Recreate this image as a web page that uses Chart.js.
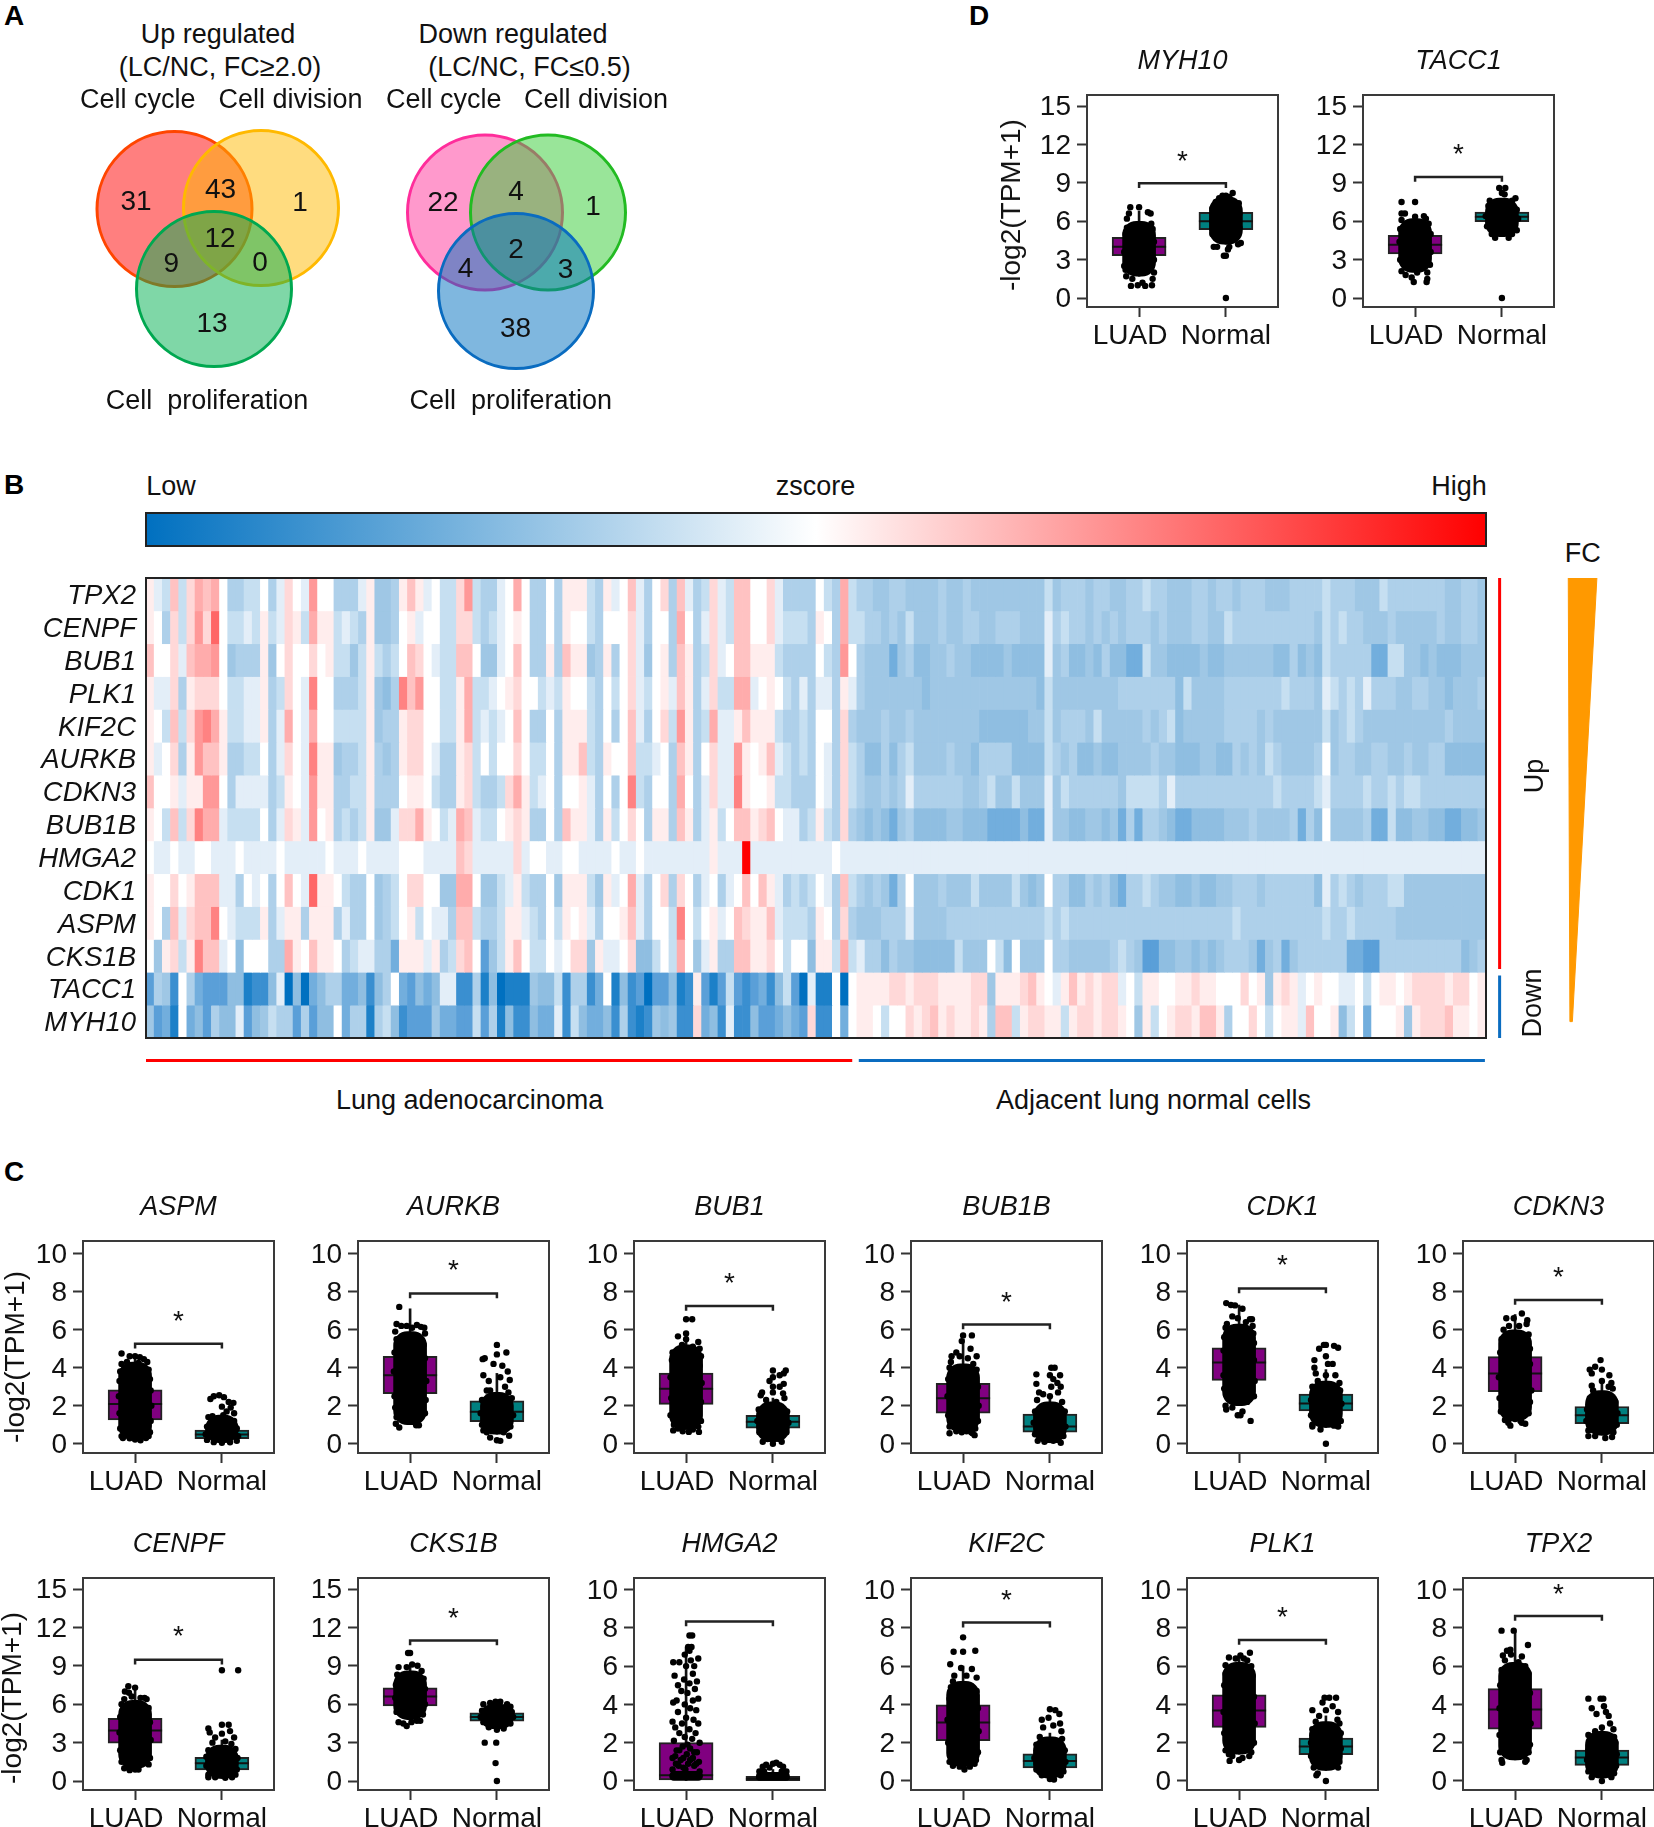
<!DOCTYPE html>
<html>
<head>
<meta charset="utf-8">
<title>Venn, heatmap and expression panels</title>
<script src="https://cdn.jsdelivr.net/npm/chart.js@4"></script>
<style>
html, body { margin: 0; padding: 0; background: #fff; width: 1654px; height: 1827px; overflow: hidden; }
canvas { position: absolute; }
.lbl { position: absolute; transform: translate(-50%, -50%); white-space: pre; font: 27px "Liberation Sans", Arial, sans-serif; color: #111; line-height: 1; }
.ylab { font-size: 28px; }
.bold { font-weight: bold; font-size: 28px; color: #000; }
</style>
</head>
<body>
<script>
// venn counts
const upCounts = [31, 43, 1, 9, 12, 0, 13];
const downCounts = [22, 4, 1, 4, 2, 3, 38];

// box plot values, same order as plotGenes
const plotGenes = ['ASPM','AURKB','BUB1','BUB1B','CDK1','CDKN3','CENPF','CKS1B','HMGA2','KIF2C','PLK1','TPX2','MYH10','TACC1'];
const groupLabels = ['LUAD', 'Normal'];
const ticks10 = [0, 2, 4, 6, 8, 10];
const ticks15 = [0, 3, 6, 9, 12, 15];
const q1Luad   = [1.25,2.63,2.07,1.61,3.33,2.74,2.95,5.87,0.05,2.1,2.8,2.7,3.3,3.44];
const medLuad  = [2.09,3.6,2.89,2.39,4.28,3.7,3.94,6.6,0.3,3.06,3.68,3.73,4,4.17];
const q3Luad   = [2.84,4.6,3.72,3.18,5.05,4.58,4.9,7.28,2,3.98,4.5,4.82,4.74,4.9];
const q1Norm   = [0.26,1.16,0.82,0.61,1.72,1.05,0.86,4.67,0.02,0.68,1.38,0.82,5.34,5.96];
const medNorm  = [0.49,1.68,1.16,0.9,2.12,1.5,1.38,5,0.12,1.05,1.8,1.23,6,6.35];
const q3Norm   = [0.72,2.26,1.49,1.56,2.61,1.96,1.85,5.32,0.25,1.42,2.24,1.61,6.69,6.72];
const whiskLuad = [4.7,7.1,5.8,5.5,7.3,6.8,7.4,9,7,6,6.6,7.8,6.8,6.5];
const whiskNorm = [1.3,3.7,2.4,2.6,3.9,3.2,3.2,6,0.6,2.5,3.4,2.7,8,7.6];
const bracketTop = [5.26,7.91,7.25,6.28,8.17,7.56,9.47,10.98,8.33,8.27,7.36,8.62,8.96,9.45];
const starLevel  = [6.77,9.44,8.8,7.77,9.7,9.07,11.77,13.2,null,9.74,8.9,10.1,11.2,11.7];
// the solid part of each dot cloud, low and high
const denseLoLuad = [0.2,1.0,0.75,0.6,2.0,1.2,1.0,4.8,0,0.75,1.4,1.1,1.7,2.0];
const denseHiLuad = [4.3,5.9,5.2,4.2,6.3,6.0,6.3,8.6,0.5,5.2,6.2,6.2,6.0,6.2];
const denseLoNorm = [0.05,0.5,0.1,0.05,0.85,0.45,0.2,4.1,0,0.15,0.55,0.15,4.2,4.8];
const denseHiNorm = [1.5,2.7,2.2,2.2,3.3,2.8,2.8,6,0.45,2.3,3.1,2.6,7.9,7.8];

// dots: [jitter, value]
const ASPM_luad = [[-.2,4.75],[-.08,4.6],[0,4.6],[.07,4.55],[.13,4.45],[.18,4.3],[-.2,4.2],[-.12,4.3],[.05,4.25],[.2,3.9],[-.22,3.8],[.22,3.4],[-.23,3.3],[.23,2.8],[-.24,2.5],[.24,2],[-.23,1.6],[.23,1.2],[-.22,.8],[.22,.6],[-.2,.4],[-.18,.3],[-.08,.28],[0,.22],[.08,.18],[.16,.3],[.2,.4]];
const ASPM_norm = [[-.12,2.5],[-.17,2.35],[-.04,2.55],[.03,2.45],[.1,2.2],[.17,2.15],[.13,1.9],[0,1.95],[.07,1.7],[.18,1.6],[-.2,1.4],[-.14,1.45],[.02,1.5],[.18,1.2],[-.22,.9],[.22,.8],[-.24,.5],[.24,.4],[-.22,.2],[.22,.15],[-.12,.08],[0,.05],[.12,.07]];
const AURKB_luad = [[-.16,7.2],[-.2,6.3],[-.13,6.2],[-.05,6.2],[.03,6.1],[.1,6.25],[.16,6.15],[.21,6.1],[-.22,5.9],[.22,5.8],[-.2,5.5],[.2,5.2],[-.23,4.8],[.22,4.5],[-.24,3.8],[.24,3.3],[-.23,2.5],[.23,2.3],[-.22,1.9],[.22,1.6],[-.2,1.4],[.17,1.5],[-.21,1.05],[-.16,.85],[.09,.97],[.13,.97],[-.08,1.3]];
const AURKB_norm = [[-.18,4.5],[-.21,4.45],[0,5.2],[.14,4.8],[0,4.7],[-.05,4.2],[.08,4.1],[.16,3.8],[-.2,3.6],[-.12,3.3],[.05,3.5],[.19,3.35],[.12,3],[-.15,2.8],[-.22,2.3],[.22,2.4],[.17,2.7],[-.1,2.8],[-.24,1.6],[.24,1.5],[-.22,1],[.2,.9],[-.15,.6],[-.2,.7],[.1,.6],[-.1,.32],[0,.18],[.05,.15],[.18,.42]];
const BUB1_luad = [[0,6.55],[.09,6.55],[0,5.8],[-.12,5.65],[0,5.5],[.18,5.35],[-.06,5.2],[.1,5.1],[.2,5],[-.2,4.8],[-.1,4.95],[.22,4.6],[-.21,4.4],[-.19,4.1],[.2,4.1],[-.23,3.5],[.23,3.2],[-.22,2.4],[.22,2.2],[-.23,1.5],[.22,1.2],[-.18,1],[.18,.9],[-.19,.7],[-.05,.65],[.04,.62],[.19,.62],[-.12,.8],[.1,.75]];
const BUB1_norm = [[0,3.85],[.19,3.85],[.16,3.7],[.1,3.6],[0,3.5],[-.05,3.3],[.16,3.15],[0,3],[.1,3],[-.16,2.7],[0,2.7],[.15,2.65],[-.18,2.55],[.17,2.4],[-.1,2.3],[.05,2.2],[-.21,1.8],[.21,1.7],[-.23,1.2],[.23,1.1],[-.2,.6],[.2,.6],[-.15,.1],[0,0],[.13,.1],[.1,.25],[-.08,.25]];
const BUB1B_luad = [[0,5.7],[.13,5.7],[-.02,5.4],[.11,5],[.2,4.6],[-.1,4.8],[-.17,4.6],[-.05,4.6],[.07,4.5],[-.18,4.3],[.15,4.2],[-.2,4],[.2,3.9],[-.22,3.4],[.22,3],[-.23,2.5],[.23,2],[-.22,1.5],[.22,1.2],[-.2,.9],[.18,.8],[-.2,.55],[-.1,.65],[-.02,.6],[.05,.65],[.12,.6],[.17,.45],[.14,.55]];
const BUB1B_norm = [[-.2,3.65],[-.2,3.15],[.02,4],[.07,4],[.15,3.6],[0,3.6],[.05,3.4],[.11,3.2],[.16,3],[.02,3],[-.16,2.7],[-.1,2.6],[.12,2.7],[0,2.5],[-.19,2.3],[.18,2.2],[-.22,1.7],[.22,1.7],[-.24,1.1],[.23,.9],[-.22,.5],[.2,.4],[-.18,.15],[-.08,.1],[.05,.15],[.16,.05],[.1,.2]];
const CDK1_luad = [[-.19,7.4],[-.12,7.3],[-.06,7.28],[.05,7.1],[-.1,6.7],[-.02,6.6],[.16,6.55],[.19,6.55],[-.18,6.3],[.1,6.4],[.2,6.2],[-.2,6.1],[.21,5.8],[-.22,5.6],[.22,5.3],[-.23,4.9],[.22,4.4],[-.23,3.6],[.23,3.3],[-.22,2.9],[.22,2.5],[-.2,2],[.12,2.2],[-.19,1.8],[-.1,1.9],[.05,1.7],[.02,1.5],[-.02,1.5],[.17,1.2]];
const CDK1_norm = [[0,5.2],[-.03,5.2],[.12,5.15],[.18,5.05],[-.1,5],[-.17,4.4],[0,4.6],[.1,4.2],[-.17,4],[.03,4.2],[-.15,3.7],[.14,3.6],[0,3.6],[-.12,3.3],[.2,3.2],[-.2,3],[.21,2.8],[-.22,2.3],[.23,2.1],[-.22,1.5],[.22,1.2],[-.2,1],[.18,.9],[-.2,.9],[-.08,.75],[.12,.95],[.18,.95],[0,0]];
const CDKN3_luad = [[-.13,6.6],[.1,6.85],[-.02,6.6],[.18,6.5],[.17,6.3],[.06,6.2],[-.09,6.2],[-.17,6],[.2,5.75],[-.2,5.5],[.22,5],[-.22,4.8],[.22,4.2],[-.24,3.5],[.24,2.8],[-.23,2.4],[.22,2.2],[-.21,1.7],[.2,1.6],[-.1,1.5],[-.15,1.25],[-.1,1.1],[-.07,.95],[.08,1.2],[.1,1.1],[.15,1.05],[0,1.3]];
const CDKN3_norm = [[-.02,4.4],[-.18,3.9],[-.15,3.7],[-.1,4.05],[0,3.9],[.11,3.6],[-.15,3.05],[0,3.3],[.14,3.2],[.1,3],[-.13,2.8],[.16,2.9],[-.18,2.4],[.2,2.2],[-.22,1.8],[.23,1.6],[-.23,1.2],[.22,1],[-.2,.7],[.17,.6],[-.2,.4],[-.1,.4],[.05,.3],[.15,.35]];
const CENPF_luad = [[-.1,7.4],[-.15,7],[-.09,6.9],[0,7.3],[.14,6.5],[.17,6.4],[-.16,6.4],[-.05,6.6],[.08,6.5],[-.2,6],[.2,5.7],[-.22,5],[.22,4.6],[-.23,3.8],[.23,3.2],[-.22,2.4],[.22,1.8],[-.2,1.5],[.2,1.3],[-.16,1],[-.08,.85],[0,.9],[.05,.9],[-.12,1.1]];
const CENPF_norm = [[0,8.65],[.24,8.65],[-.2,4.1],[0,4.4],[.1,4.4],[-.18,3.8],[-.1,3.4],[0,3.7],[.12,3.9],[.18,3.4],[-.14,3],[.05,3.1],[.14,2.9],[-.2,2.4],[.2,2.5],[-.23,1.9],[.23,1.8],[-.23,1.2],[.22,.9],[-.2,.5],[-.1,.3],[.05,.25],[.15,.3],[.2,.5],[-.2,.3]];
const CKS1B_luad = [[-.03,10],[0,10],[.03,9.1],[-.17,8.9],[-.05,8.9],[.11,9],[.17,8.6],[-.19,8.3],[.2,8],[-.21,7.5],[.22,7.2],[-.22,6.5],[.22,6],[-.2,5.4],[.19,5.2],[.15,4.7],[-.17,4.6],[-.1,4.5],[-.05,4.3],[.02,4.6],[.1,4.7]];
const CKS1B_norm = [[-.2,6],[-.1,6.1],[-.02,6.2],[.05,6.2],[.15,6],[.2,5.8],[-.22,5.5],[.22,5.4],[-.24,5],[.24,5],[-.2,4.6],[.2,4.5],[-.12,4.2],[0,4],[.1,4.1],[-.18,3],[-.01,3],[-.02,1.4],[0,0]];
const HMGA2_luad = [[.05,7.6],[.09,7.6],[.03,7],[.08,7],[-.02,6.6],[.05,6.8],[.18,6.4],[-.19,6.2],[-.1,6.2],[.07,6.3],[.12,6],[0,6],[-.17,5.5],[.1,5.6],[-.03,5.3],[.16,5.2],[.05,5.1],[-.12,5],[-.07,4.7],[.13,4.8],[.02,4.6],[-.19,4.1],[-.14,4.2],[.18,4.3],[.1,4.2],[-.02,4],[.06,3.8],[-.12,3.6],[.15,3.7],[-.2,3.1],[0,3.3],[.11,3.2],[-.06,3],[.18,3],[-.16,2.8],[.05,2.7],[-.1,2.5],[.14,2.5],[-.02,2.3],[.09,2.2],[-.18,2.1],[.2,2],[-.05,1.8],[.06,1.7],[-.14,1.6],[.16,1.5],[.01,1.4],[-.2,1.2],[.1,1.2],[-.08,1.1],[.19,1],[-.15,.9],[.03,.9],[.12,.8],[-.04,.7],[-.2,.6],[.2,.5],[-.1,1.6],[.02,1.9],[.12,1.5],[-.16,1.3],[-.04,1.2],[.06,1.1],[.15,.9],[-.11,.8],[-.01,.6]];
const HMGA2_norm = [[-.2,.5],[-.15,.75],[-.1,.85],[-.05,.7],[0,.9],[.05,.95],[.1,.85],[.15,.75],[.2,.5],[-.2,.2],[.2,.2],[-.13,.5],[.13,.5]];
const KIF2C_luad = [[0,7.5],[-.14,6.75],[0,6.75],[.18,6.8],[-.19,6.1],[-.03,5.9],[.13,5.85],[-.13,5.5],[.2,5.4],[-.15,5.2],[.05,5.5],[-.18,4.9],[.2,4.7],[-.2,4.3],[.22,3.8],[-.23,3.2],[.23,2.6],[-.22,2],[.22,1.5],[-.2,1],[.19,1.1],[-.15,.8],[-.05,.75],[.02,.6],[.1,.75],[.17,.9]];
const KIF2C_norm = [[0,3.75],[.08,3.7],[.14,3.5],[-.12,3.2],[-.02,3.3],[.15,3],[-.1,2.8],[.05,2.9],[.17,2.6],[-.15,2.3],[.18,2.2],[-.2,1.9],[.22,1.6],[-.23,1.2],[.23,1],[-.2,.6],[.2,.5],[-.12,.3],[0,.1],[.06,.08],[.16,.3]];
const PLK1_luad = [[.16,6.7],[.02,6.55],[-.15,6.45],[-.05,6.4],[.07,6.4],[.12,6.3],[-.2,6.05],[.18,6],[-.2,5.6],[.2,5.5],[-.22,5],[.22,4.4],[-.23,3.6],[.23,3],[-.22,2.5],[.22,2],[-.2,1.6],[.18,1.5],[-.15,1.4],[-.1,1.3],[.15,1.3],[-.14,1.05],[0,1.1],[.05,1.2]];
const PLK1_norm = [[-.02,4.35],[.05,4.35],[.15,4.35],[-.2,3.7],[-.05,4.1],[.1,3.9],[.18,3.6],[-.1,3.4],[0,3.7],[.17,3.2],[-.15,3.1],[.2,3],[-.2,2.7],[.22,2.5],[-.22,2],[.22,1.7],[-.22,1.3],[.2,1],[-.18,.7],[.18,.7],[-.12,.4],[-.14,.3],[0,0]];
const TPX2_luad = [[-.2,7.85],[-.02,7.85],[.19,7.1],[-.12,6.8],[-.07,6.85],[-.18,6.55],[-.06,6.6],[.1,6.5],[.05,6.2],[-.15,6.3],[.15,6],[-.2,5.8],[.2,5.6],[-.22,5],[.22,4.6],[-.23,3.8],[.23,3],[-.23,2.4],[.22,1.9],[-.22,1.5],[.2,1.5],[-.2,1.1],[.17,1.1],[-.19,.95],[.15,1],[0,1.4],[-.05,1.5]];
const TPX2_norm = [[-.2,4.3],[-.02,4.3],[.02,4.3],[-.15,3.8],[.03,3.9],[.06,3.6],[.1,3.4],[.12,3],[-.08,3.5],[-.1,2.6],[.17,2.7],[-.2,2.4],[0,2.8],[.18,2.3],[-.12,2.1],[.2,2],[-.2,1.6],[.22,1.4],[-.22,1.1],[.21,.8],[-.2,.5],[.18,.4],[-.15,.2],[0,0],[.14,.2]];
const MYH10_luad = [[-.13,7.1],[0,7.1],[.13,6.7],[.17,6.6],[-.15,6.6],[-.18,6.2],[.18,5.8],[-.18,5.5],[.2,5.4],[-.2,5],[.22,4.4],[-.22,3.6],[.22,3],[-.22,2.5],[.22,2],[-.2,2.2],[-.19,1.7],[.2,1.5],[-.1,1.5],[.05,1.2],[-.02,1],[-.12,.95],[.09,.95],[.19,1]];
const MYH10_norm = [[.1,8.2],[-.05,8],[-.1,7.8],[0,8],[.05,7.9],[-.15,7.5],[.19,7.4],[-.2,7],[.2,6.6],[-.2,6],[.2,5.5],[-.2,5],[.22,4.3],[-.18,4],[-.13,4],[.18,4.2],[-.05,4.5],[.05,4],[.03,3.8],[-.03,3.3],[0,3.3],[0,0]];
const TACC1_luad = [[-.2,7.5],[0,7.5],[-.2,6.6],[-.15,6.6],[0,6.35],[.13,6.4],[.16,6.2],[-.2,6.1],[.2,5.8],[-.22,5.4],[.23,5],[-.23,4.4],[.23,3.6],[-.22,3],[.22,2.6],[-.2,2.1],[.18,2],[-.14,1.8],[.18,1.5],[-.05,1.6],[.17,1.25],[-.02,1.25],[.03,2]];
const TACC1_norm = [[-.04,8.6],[0,8.2],[.05,8.6],[.04,8.1],[-.18,7.6],[.2,7.8],[.15,7.6],[-.2,7.2],[.22,6.9],[-.24,6.4],[.24,6.2],[-.22,5.6],[.22,5.3],[-.15,5],[.15,5],[.1,4.7],[-.1,4.7],[0,0]];

// heatmap z levels, 86 tumour columns then 78 normal columns
const heatGenes = ['TPX2','CENPF','BUB1','PLK1','KIF2C','AURKB','CDKN3','BUB1B','HMGA2','CDK1','ASPM','CKS1B','TACC1','MYH10'];
const heat_TPX2 = [1,-1,-2,3,-2,2,4,3,4,0,-3,-3,-2,-2,0,-3,-1,2,0,-1,5,0,0,-3,-3,-3,-1,1,-4,-4,-3,1,3,1,-1,0,-2,-2,2,5,-2,-3,-3,
  -1,0,4,0,-3,-3,0,-3,1,1,1,-2,-3,1,-1,0,3,-1,-3,0,2,-3,3,-1,-3,-2,2,-1,-2,3,3,0,0,2,-1,-3,-3,-3,-3,0,-2,-3,4,
  -2,-3,-3,-4,-4,-3,-3,-4,-4,-4,-4,-3,-4,-4,-3,-4,-4,-4,-4,-4,-4,-4,-4,-4,-2,-4,-3,-3,-3,-4,-3,-3,-4,-4,-3,-3,-2,-3,-3,-4,-4,-4,-3,-3,-4,-3,-3,-4,-3,-3,-3,-4,-4,-4,-3,-3,-3,-3,-2,-3,-3,-3,-4,-4,-4,-2,-3,-3,-3,-3,-3,-3,-3,-4,-4,-3,-3,-4];
const heat_CENPF = [1,0,-3,2,-2,2,5,2,7,0,-2,-2,-1,-2,1,-2,-1,2,1,-2,4,1,1,-2,-1,-2,-3,1,-4,-4,-3,0,1,-1,0,0,-2,-2,2,2,-2,-3,-2,
  -1,0,1,0,-3,-3,0,-3,1,0,0,-2,-3,0,0,0,2,-1,-3,0,0,-3,4,0,-3,-1,2,-1,-2,3,3,0,0,2,-1,-2,-2,-2,-3,1,0,-3,4,
  -2,-2,-3,-3,-4,-3,-4,-2,-4,-4,-4,-3,-4,-4,-3,-3,-4,-4,-3,-3,-3,-4,-4,-4,-1,-3,-2,-3,-3,-4,-3,-4,-3,-4,-3,-3,-3,-4,-3,-4,-4,-4,-3,-3,-4,-4,-2,-3,-3,-3,-3,-3,-3,-3,-3,-3,-3,-4,-2,-3,-2,-3,-3,-4,-4,-4,-3,-4,-4,-4,-4,-4,-3,-4,-4,-3,-3,-4];
const heat_BUB1 = [3,0,0,2,-1,3,4,4,5,0,-4,-3,-3,-3,1,-4,0,2,0,0,2,0,1,-2,-2,-4,-2,1,-2,-3,-2,0,3,2,0,-1,-2,-2,3,3,0,-4,-4,
  -1,0,3,0,-3,-3,1,-3,3,1,1,-4,-3,1,-3,0,2,-1,-4,0,1,-3,3,1,-3,-2,2,-1,0,3,3,1,1,1,-2,-3,-3,-3,-3,0,-2,-3,5,
  0,-3,-4,-4,-4,-6,-4,-3,-5,-5,-4,-4,-3,-4,-4,-5,-5,-5,-5,-4,-5,-5,-5,-5,-1,-4,-3,-5,-5,-4,-5,-3,-5,-5,-6,-6,-2,-4,-4,-5,-5,-5,-5,-4,-5,-5,-4,-4,-4,-4,-4,-4,-5,-5,-3,-5,-4,-5,-2,-3,-3,-3,-3,-3,-6,-6,-2,-2,-4,-4,-5,-4,-5,-5,-5,-4,-4,-4];
const heat_PLK1 = [1,-1,-1,2,-3,1,2,2,2,0,-2,-2,-1,-1,1,-3,-2,2,0,-1,6,0,0,-3,-3,-3,-2,1,-4,-5,-3,6,3,5,0,0,-2,-2,1,4,-2,-2,-1,
  0,1,2,0,0,-2,-1,-2,1,0,0,-2,-3,0,-2,0,2,-1,-2,0,1,-1,3,1,-3,-1,2,-2,-2,4,4,-1,0,1,0,-2,-3,-1,-3,-1,-1,-3,1,
  -1,-3,-4,-4,-4,-4,-4,-4,-4,-5,-4,-4,-4,-4,-4,-4,-4,-4,-4,-4,-4,-4,-4,-5,-2,-4,-4,-4,-4,-4,-4,-4,-4,-3,-3,-3,-3,-3,-3,-3,-5,-2,-4,-4,-4,-4,-3,-3,-3,-3,-3,-3,-3,-2,-3,-3,-3,-4,-1,-2,-3,-2,-3,-1,-3,-3,-3,-4,-4,-3,-3,-4,-4,-5,-4,-4,-4,-3];
const heat_KIF2C = [1,0,-2,3,-2,2,5,6,4,1,-2,-2,-1,-1,1,-3,-1,4,0,-1,4,0,0,-2,-2,-2,-2,1,-4,-3,-3,1,2,2,0,0,-2,-2,1,4,-2,-1,-2,
  -1,0,3,0,-3,-3,0,-3,1,1,1,-2,-3,0,-3,0,3,-1,-3,0,2,-2,5,1,-3,-2,4,-1,-1,1,3,1,1,1,-2,-3,-3,-2,-3,0,0,-3,2,
  -3,-4,-4,-4,-3,-4,-4,-3,-4,-4,-4,-4,-4,-4,-4,-4,-5,-5,-5,-5,-5,-5,-4,-4,-2,-4,-3,-3,-3,-4,-2,-4,-4,-4,-4,-4,-3,-4,-3,-2,-5,-4,-4,-4,-4,-4,-3,-3,-3,-3,-4,-3,-4,-4,-4,-4,-4,-4,-2,-4,-3,-2,-3,-4,-4,-4,-4,-4,-4,-4,-4,-4,-4,-3,-4,-4,-4,-4];
const heat_AURKB = [1,-1,0,2,-3,1,5,3,3,1,-3,-3,-2,-2,0,-3,-1,2,0,-1,6,1,1,-4,-3,-3,-2,1,-3,-4,-3,1,2,2,0,-1,-3,-3,1,2,-2,0,-2,
  0,0,2,0,-2,-2,0,-3,1,1,3,-2,-3,1,0,0,3,-2,-2,-1,0,-3,3,1,-3,0,2,-1,-1,5,1,0,1,3,-1,-2,-3,-2,-3,0,-1,-3,2,
  -2,-3,-5,-5,-3,-5,-3,-2,-4,-4,-4,-4,-3,-4,-4,-5,-3,-3,-3,-3,-5,-5,-5,-5,-2,-3,-4,-3,-5,-5,-4,-5,-5,-4,-4,-4,-4,-3,-4,-4,-5,-5,-5,-4,-4,-5,-5,-3,-4,-3,-4,-2,-3,-4,-4,-4,-4,-3,0,-4,-3,-3,-4,-4,-3,-3,-4,-4,-3,-4,-4,-3,-3,-5,-5,-5,-5,-5];
const heat_CDKN3 = [3,0,0,1,-1,1,1,5,5,0,-3,-1,-1,-1,-1,-3,-2,1,0,-1,5,1,1,-3,-3,-2,-2,1,-3,-3,-3,0,1,1,0,-2,-3,-3,1,2,-2,-3,-3,
  -2,2,4,1,-2,-1,0,-3,0,0,1,-1,-3,0,-3,0,6,-2,-3,0,0,-3,4,0,-3,-1,2,-1,-1,6,1,0,0,1,-2,-2,-3,-3,-3,0,-1,-3,2,
  -2,-3,-4,-4,-3,-4,-3,-1,-3,-3,-3,-3,-3,-3,-4,-4,-3,-2,-4,-4,-2,-4,-4,-4,-1,-4,-2,-3,-3,-3,-3,-3,-3,-4,-2,-2,-2,-2,-3,-1,-3,-3,-3,-3,-3,-3,-3,-3,-3,-3,-3,-3,-2,-3,-3,-3,-3,-2,-1,-3,-3,-3,-3,-2,-3,-3,-2,-3,-2,-2,-3,-3,-3,-3,-3,-3,-3,-3];
const heat_BUB1B = [1,0,-2,3,-2,2,6,4,4,-1,-2,-2,-2,-2,0,-3,-1,2,1,-1,5,0,1,-3,-2,-3,-2,1,-4,-4,-1,2,2,4,1,0,-2,-1,4,3,-1,-2,-2,
  0,1,2,1,-3,-3,0,-3,3,1,1,-1,-3,1,-2,0,2,0,-3,1,1,-3,3,1,-3,-1,1,-2,0,3,3,1,2,3,0,-1,-1,-3,-2,1,-2,-3,2,
  -3,-4,-5,-4,-5,-6,-4,-3,-5,-5,-5,-5,-4,-4,-5,-5,-5,-6,-6,-6,-6,-5,-6,-6,-1,-4,-4,-5,-5,-4,-4,-5,-4,-6,-3,-6,-3,-3,-4,-5,-6,-6,-5,-5,-5,-5,-4,-4,-4,-3,-4,-4,-4,-4,-3,-6,-3,-5,0,-4,-4,-4,-4,-3,-6,-6,-2,-5,-5,-4,-4,-5,-5,-6,-6,-5,-5,-4];
const heat_HMGA2 = [0,-1,-1,0,-1,-1,0,0,-1,-1,-1,0,-1,-1,-1,-1,0,-1,-1,-1,-1,-1,0,-1,-1,-1,0,-1,-1,-1,-1,0,0,0,-1,-1,-1,-1,3,2,-1,-1,-1,
  -1,-1,2,-1,0,0,-1,-1,0,0,-1,-1,-1,-1,0,-1,-1,0,-1,-1,-1,-1,-1,-1,-1,-1,1,-1,-1,-1,10,-1,-1,-1,-1,-1,-1,-1,-1,-1,-1,0,-1,
  -1,-1,-1,-1,-1,-1,-1,-1,-1,-1,-1,-1,-1,-1,-1,-1,-1,-1,-1,-1,-1,-1,-1,-1,-1,-1,-1,-1,-1,-1,-1,-1,-1,-1,-1,-1,-1,-1,-1,-1,-1,-1,-1,-1,-1,-1,-1,-1,-1,-1,-1,-1,-1,-1,-1,-1,-1,-1,-1,-1,-1,-1,-1,-1,-1,-1,-1,-1,-1,-1,-1,-1,-1,-1,-1,-1,-1,-1];
const heat_CDK1 = [1,0,0,2,0,1,3,3,3,-1,-1,-3,0,-1,0,-3,0,3,0,-1,7,1,1,0,-2,-3,-3,0,-4,-3,-2,0,2,2,0,0,-4,-4,4,4,0,-4,-4,
  -2,-1,1,-2,-3,-3,0,-4,1,1,1,-2,-4,1,-1,0,4,-1,-3,0,2,-3,2,0,-3,-1,0,-3,-1,0,3,0,3,1,-1,-3,-2,-3,-2,0,-1,-3,3,
  -2,-3,-4,-3,-4,-6,-3,0,-4,-4,-4,-3,-4,-4,-4,-2,-4,-4,-4,-4,-2,-4,-5,-4,0,-3,-3,-5,-5,-3,-4,-3,-5,-6,-3,-3,-2,-3,-4,-4,-5,-5,-4,-5,-5,-4,-4,-3,-3,-3,-4,-3,-3,-3,-3,-3,-3,-5,-1,-3,-2,-3,-4,-3,-3,-3,-2,-2,-4,-4,-4,-4,-4,-4,-4,-4,-4,-4];
const heat_ASPM = [1,0,-3,3,-1,2,3,3,6,0,-1,-2,-2,-2,1,-3,-1,1,1,-3,1,1,1,-3,-1,-3,-3,0,-4,-3,-2,0,1,-2,0,-1,-1,-3,3,3,-2,-3,-3,
  -2,1,1,-1,-2,-3,0,-2,1,0,1,-1,-3,0,0,1,3,-1,-3,0,0,-2,6,0,-2,0,1,-1,0,3,2,1,1,3,-1,-2,-2,-2,-3,1,0,-3,2,
  -3,-4,-4,-4,-3,-3,-3,-1,-4,-4,-4,-4,-3,-3,-3,-3,-3,-3,-3,-3,-3,-3,-3,-3,-2,-3,-2,-3,-3,-3,-3,-3,-3,-3,-3,-3,-3,-3,-3,-3,-3,-3,-3,-3,-3,-3,-3,-2,-3,-3,-3,-3,-3,-3,-3,-3,-3,-3,-2,-3,-3,-2,-3,-3,-3,-3,-3,-4,-4,-4,-4,-4,-4,-4,-4,-4,-4,-4];
const heat_CKS1B = [0,-4,1,2,-2,1,6,3,3,-1,0,-5,0,0,0,-3,-3,4,1,0,3,1,1,0,-3,-2,-1,-1,-3,-3,-6,1,1,1,-1,1,-3,-2,2,3,0,-7,-4,
  -2,1,3,0,-2,-2,0,-1,0,2,2,-4,1,-1,-1,0,2,-5,-5,-2,0,-2,4,0,-4,-1,1,-3,-3,3,3,1,1,2,0,-2,0,0,-5,1,1,-2,4,
  -2,-1,-3,-3,-5,-3,-4,-4,-5,-5,-5,-5,-5,-2,-4,-4,-4,0,-2,-5,0,-4,-4,-4,0,-3,-3,-4,-4,-4,-4,-4,-3,-2,-3,-4,-7,-7,-5,-5,-4,-4,-5,-4,-5,-4,-3,-3,-3,-4,-6,-4,-3,-6,-4,-3,-3,-3,-3,-3,-3,-6,-6,-7,-7,-3,-3,-3,-3,-3,-3,-3,-3,-3,-3,-5,-4,-3];
const heat_TACC1 = [-7,-3,-4,-8,0,-3,-6,-7,-7,-7,-5,-5,-9,-8,-8,-5,-1,-10,-5,-10,-6,-5,-3,-3,-6,-6,-5,-8,-5,-3,0,-6,-7,-5,-6,-5,-1,-1,-8,-8,-3,-9,-5,
  -10,-9,-9,-9,-4,-5,-5,-2,-8,-3,-3,-8,-6,0,-9,-5,-8,-7,-10,-7,-7,-5,-9,-8,1,-7,-9,-7,-2,-7,-8,-7,-6,-8,-5,-2,-7,-10,-1,-9,-9,0,-10,
  0,1,1,1,1,2,2,1,2,2,2,1,1,1,1,2,2,-4,1,1,1,2,3,1,0,-1,1,3,1,2,1,2,2,-1,0,-2,1,1,0,0,1,1,2,1,1,0,0,0,2,0,1,-4,1,2,1,-1,0,1,0,0,-1,-1,0,-2,0,1,1,0,1,2,2,2,2,1,2,2,0,1];
const heat_MYH10 = [-4,-7,-6,-9,0,-6,-5,-7,-3,-5,-5,-1,-7,-5,-4,-2,-3,-3,-7,-3,-7,-5,-5,0,-6,-3,-3,-9,-3,-2,-5,-8,-7,-7,-7,-4,-6,-6,-7,-7,-2,-7,-3,
  -9,-5,-8,-8,-5,-6,-6,-1,-8,-2,-5,-6,-6,-5,-8,-3,-8,-9,-8,-4,-5,-4,-8,-8,2,-6,-5,-8,-1,-8,-8,-5,-7,-7,-6,-5,-6,-7,2,-8,-8,0,-6,
  0,1,1,0,-2,0,0,2,1,2,3,1,2,1,1,2,1,-3,3,3,-2,1,2,2,1,1,-2,1,2,2,1,2,2,1,0,-4,1,-2,0,1,2,2,1,3,3,1,-3,0,0,2,0,-2,0,1,1,-1,3,0,0,1,-5,-2,0,-6,0,0,0,1,-4,1,2,2,2,3,1,1,0,1];
const zscoreLabels = ['Low', 'zscore', 'High'];

// ---------- layout, not data ----------
Chart.defaults.font.family = '"Liberation Sans", Arial, sans-serif';
Chart.defaults.color = '#111';
Chart.defaults.animation = false;
Chart.defaults.plugins.legend.display = false;
Chart.defaults.plugins.tooltip.enabled = false;

const cloudTable = {
  ASPM: [ASPM_luad, ASPM_norm], AURKB: [AURKB_luad, AURKB_norm], BUB1: [BUB1_luad, BUB1_norm],
  BUB1B: [BUB1B_luad, BUB1B_norm], CDK1: [CDK1_luad, CDK1_norm], CDKN3: [CDKN3_luad, CDKN3_norm],
  CENPF: [CENPF_luad, CENPF_norm], CKS1B: [CKS1B_luad, CKS1B_norm], HMGA2: [HMGA2_luad, HMGA2_norm],
  KIF2C: [KIF2C_luad, KIF2C_norm], PLK1: [PLK1_luad, PLK1_norm], TPX2: [TPX2_luad, TPX2_norm],
  MYH10: [MYH10_luad, MYH10_norm], TACC1: [TACC1_luad, TACC1_norm]
};
const heatTable = [heat_TPX2, heat_CENPF, heat_BUB1, heat_PLK1, heat_KIF2C, heat_AURKB, heat_CDKN3,
  heat_BUB1B, heat_HMGA2, heat_CDK1, heat_ASPM, heat_CKS1B, heat_TACC1, heat_MYH10];

function addLabel(text, x, y, cls, rotate) {
  const d = document.createElement('div');
  d.className = 'lbl' + (cls ? ' ' + cls : '');
  d.textContent = text;
  d.style.left = x + 'px';
  d.style.top = y + 'px';
  if (rotate) d.style.transform = 'translate(-50%, -50%) rotate(-90deg)';
  document.body.appendChild(d);
}

function addCanvas(left, top, w, h) {
  const c = document.createElement('canvas');
  c.width = w; c.height = h;
  c.style.left = left + 'px'; c.style.top = top + 'px';
  c.style.width = w + 'px'; c.style.height = h + 'px';
  document.body.appendChild(c);
  return c.getContext('2d');
}

// outline round the plot area
const frame = {
  id: 'frame',
  afterDatasetsDraw(chart, args, opts) {
    const { ctx, chartArea: a } = chart;
    ctx.save();
    ctx.strokeStyle = opts.color || '#3a3a3a';
    ctx.lineWidth = opts.width || 2;
    ctx.strokeRect(a.left, a.top, a.right - a.left, a.bottom - a.top);
    ctx.restore();
  }
};

// the significance star, placed through the scales
const starMark = {
  id: 'starMark',
  afterDatasetsDraw(chart, args, opts) {
    if (opts.level == null) return;
    const { ctx, scales } = chart;
    ctx.save();
    ctx.font = '28px "Liberation Sans", Arial, sans-serif';
    ctx.fillStyle = '#111';
    ctx.textAlign = 'center';
    ctx.textBaseline = 'alphabetic';
    ctx.fillText('*', scales.x.getPixelForValue(1.5), scales.y.getPixelForValue(opts.level) + 15);
    ctx.restore();
  }
};

// group names under the ticks; the LUAD label sits a little left of its tick in the original
const groupNames = {
  id: 'groupNames',
  afterDraw(chart) {
    const { ctx, scales, chartArea } = chart;
    ctx.save();
    ctx.font = '28px "Liberation Sans", Arial, sans-serif';
    ctx.fillStyle = '#111';
    ctx.textAlign = 'center';
    ctx.textBaseline = 'middle';
    groupLabels.forEach((name, k) => {
      ctx.fillText(name, scales.x.getPixelForValue(k + 1) - (k === 0 ? 9 : 0), chartArea.bottom + 29);
    });
    ctx.restore();
  }
};

// venn counts, placed through the scales
const vennText = {
  id: 'vennText',
  afterDatasetsDraw(chart, args, opts) {
    const { ctx, scales } = chart;
    ctx.save();
    ctx.font = '28px "Liberation Sans", Arial, sans-serif';
    ctx.fillStyle = '#111';
    ctx.textAlign = 'center';
    ctx.textBaseline = 'middle';
    opts.items.forEach(it => ctx.fillText(String(it.n), scales.x.getPixelForValue(it.x), scales.y.getPixelForValue(it.y) + 2));
    ctx.restore();
  }
};

// ---------- panel A ----------
const upSpots = [[136,200],[220.5,188],[300,201],[171.4,262],[220,237],[260,261],[212,322]];
const downSpots = [[443,201],[516,190],[593,205],[465.6,267],[516,248],[565.6,268],[515.6,327]];
function bubble(x, y, fill, line, order) {
  return { data: [{ x, y, r: 77.5 }], backgroundColor: fill, borderColor: line, borderWidth: 3, hoverRadius: 0, order };
}
new Chart(addCanvas(0, 110, 700, 280), {
  type: 'bubble',
  data: { datasets: [
    bubble(214, 289, 'rgba(0,176,80,0.5)', '#00a850', 0),
    bubble(261, 208, 'rgba(255,185,0,0.5)', '#ffb900', 1),
    bubble(174.5, 209, 'rgba(255,0,0,0.5)', '#ff4500', 2),
    bubble(516, 291, 'rgba(0,112,192,0.5)', '#0a6cc0', 3),
    bubble(548, 212.5, 'rgba(51,204,51,0.5)', '#22bb22', 4),
    bubble(485, 212.5, 'rgba(255,51,153,0.5)', '#ff2d9b', 5)
  ] },
  options: {
    responsive: false,
    layout: { autoPadding: false },
    scales: {
      x: { type: 'linear', min: 0, max: 700, display: false },
      y: { type: 'linear', min: 110, max: 390, reverse: true, display: false }
    },
    plugins: { vennText: { items: upCounts.map((n, i) => ({ n, x: upSpots[i][0], y: upSpots[i][1] }))
      .concat(downCounts.map((n, i) => ({ n, x: downSpots[i][0], y: downSpots[i][1] }))) } }
  },
  plugins: [vennText]
});
addLabel('A', 14, 16, 'bold');
addLabel('Up regulated', 218, 34);
addLabel('(LC/NC, FC\u22652.0)', 220, 67);
addLabel('Cell cycle', 137.7, 99);
addLabel('Cell division', 290.6, 99);
addLabel('Down regulated', 513, 34);
addLabel('(LC/NC, FC\u22640.5)', 529.5, 67);
addLabel('Cell cycle', 443.8, 99);
addLabel('Cell division', 596, 99);
addLabel('Cell  proliferation', 207, 400);
addLabel('Cell  proliferation', 510.7, 400);

// ---------- panel B ----------
// shade for each z level, from -10 to 10
const heatShades = ['#0070c0','#1c80c8','#3a8fd0','#5a9fd8','#72aedd','#8fbee1','#9fc7e5','#aed0ea','#c6dff1','#e3eef8','#ffffff',
  '#ffeded','#ffd8d8','#ffc2c2','#ffacac','#ff9898','#ff8282','#ff6666','#ff4444','#ff2222','#ff0000'];

addLabel('B', 14, 485, 'bold');
addLabel(zscoreLabels[0], 171, 486);
addLabel(zscoreLabels[1], 815.6, 486);
addLabel(zscoreLabels[2], 1459, 486);

new Chart(addCanvas(143, 510, 1346, 38), {
  type: 'bar',
  data: { labels: ['zscore'], datasets: [{
    data: [[-10, 10]],
    barPercentage: 1, categoryPercentage: 1,
    backgroundColor(ctx) {
      const a = ctx.chart.chartArea;
      if (!a) return '#fff';
      const g = ctx.chart.ctx.createLinearGradient(a.left, 0, a.right, 0);
      g.addColorStop(0, '#0070c0'); g.addColorStop(0.5, '#ffffff'); g.addColorStop(1, '#ff0000');
      return g;
    }
  }] },
  options: {
    indexAxis: 'y', responsive: false,
    layout: { autoPadding: false, padding: { left: 3, right: 3, top: 3, bottom: 2 } },
    scales: { x: { type: 'linear', min: -10, max: 10, display: false }, y: { display: false } },
    plugins: { frame: { color: '#222', width: 2 } }
  },
  plugins: [frame]
});

const heatCols = heatTable[0].map((v, i) => i + 1);
new Chart(addCanvas(0, 576, 1490, 464), {
  type: 'bar',
  data: {
    labels: heatCols,
    datasets: heatGenes.map((g, r) => ({
      label: g,
      data: heatTable[r].map(() => [r, r + 1]),
      backgroundColor: ctx => heatShades[heatTable[r][ctx.dataIndex] + 10],
      barPercentage: 1, categoryPercentage: 1, grouped: false
    }))
  },
  options: {
    responsive: false,
    layout: { autoPadding: false, padding: { top: 2, right: 4, bottom: 2 } },
    scales: {
      x: { display: false },
      y: {
        type: 'linear', min: 0, max: 14, reverse: true,
        afterFit(s) { s.width = 146; s.paddingTop = 0; s.paddingBottom = 0; },
        afterBuildTicks(s) { s.ticks = heatGenes.map((g, i) => ({ value: i + 0.5 })); },
        border: { display: false },
        grid: { display: false, drawTicks: false },
        ticks: { autoSkip: false, padding: 10, labelOffset: 2, font: { size: 27.5, style: 'italic' }, color: '#111',
          callback: v => heatGenes[Math.floor(v)] }
      }
    },
    plugins: { frame: { color: '#222', width: 2 } }
  },
  plugins: [frame]
});

// group and direction strips, in heatmap column and row units
const strip = (pts, color) => ({ data: pts, borderColor: color, borderWidth: 3, pointRadius: 0, tension: 0 });
new Chart(addCanvas(146, 578, 1508, 497), {
  type: 'line',
  data: { datasets: [
    strip([{ x: 0, y: 14.68 }, { x: 86.4, y: 14.68 }], '#ff0000'),
    strip([{ x: 87.2, y: 14.68 }, { x: 163.8, y: 14.68 }], '#0a6cc0'),
    strip([{ x: 165.6, y: 0 }, { x: 165.6, y: 11.9 }], '#ff0000'),
    strip([{ x: 165.6, y: 12.1 }, { x: 165.6, y: 14 }], '#0a6cc0'),
    { data: [{ x: 174, y: 0 }, { x: 177.5, y: 0 }, { x: 174.5, y: 13.5 }, { x: 174.2, y: 13.5 }, { x: 174, y: 0 }],
      borderColor: '#ff9900', borderWidth: 1, backgroundColor: '#ff9900', fill: 'shape', pointRadius: 0, tension: 0 }
  ] },
  options: {
    responsive: false,
    layout: { autoPadding: false },
    scales: {
      x: { type: 'linear', min: 0, max: 1508 / 8.174, display: false },
      y: { type: 'linear', min: 0, max: 497 / 32.86, reverse: true, display: false }
    }
  }
});
addLabel('Up', 1533.7, 775.6, '', true);
addLabel('Down', 1532, 1003, '', true);
addLabel('FC', 1582.7, 552.6);
addLabel('Lung adenocarcinoma', 469.6, 1099.7);
addLabel('Adjacent lung normal cells', 1153.5, 1099.7);

// ---------- panels C and D ----------
const PLOT_W = 191, PLOT_H = 212, GUTTER_L = 70, GUTTER_T = 50, GUTTER_B = 50;
const JITTER_WIDTH = 0.78;   // the clouds came out too wide at the jitter I read

function cloudPoints(gene, groupIndex) {
  return cloudTable[gene][groupIndex].map(p => ({ x: groupIndex + 1 + p[0] * JITTER_WIDTH, y: p[1] }));
}

function expressionPlot(gene, left, top, yRange, yTicks) {
  const i = plotGenes.indexOf(gene);
  const drop = yTicks === ticks15 ? 0.37 : 0.25;
  const brk = bracketTop[i];
  new Chart(addCanvas(left - GUTTER_L, top - GUTTER_T, GUTTER_L + PLOT_W + 4, GUTTER_T + PLOT_H + GUTTER_B), {
    type: 'bar',
    data: { datasets: [
      // bracket
      { type: 'line', order: 0, data: [{ x: 1, y: brk - drop }, { x: 1, y: brk }, { x: 2, y: brk }, { x: 2, y: brk - drop }],
        borderColor: '#222', borderWidth: 2.5, pointRadius: 0, tension: 0 },
      // dots
      { type: 'scatter', order: 1, data: cloudPoints(gene, 0), backgroundColor: '#000', borderWidth: 0, pointRadius: 3.2 },
      { type: 'scatter', order: 1, data: cloudPoints(gene, 1), backgroundColor: '#000', borderWidth: 0, pointRadius: 3.2 },
      // solid centre of the clouds
      { order: 2, data: [{ x: 1, y: [denseLoLuad[i], denseHiLuad[i]] }, { x: 2, y: [denseLoNorm[i], denseHiNorm[i]] }],
        backgroundColor: '#000', barThickness: 33, grouped: false, borderRadius: 14, borderSkipped: false },
      // medians
      { type: 'scatter', order: 3, data: [{ x: 1, y: medLuad[i] }, { x: 2, y: medNorm[i] }],
        pointStyle: 'line', pointRadius: 27, borderColor: '#111', borderWidth: 2 },
      // boxes
      { order: 4, data: [{ x: 1, y: [q1Luad[i], q3Luad[i]] }, { x: 2, y: [q1Norm[i], q3Norm[i]] }],
        backgroundColor: ['#800080', '#008080'], borderColor: '#222', borderWidth: 2,
        barThickness: 54, grouped: false, borderSkipped: false },
      // whiskers
      { order: 5, data: [{ x: 1, y: [denseLoLuad[i], whiskLuad[i]] }, { x: 2, y: [denseLoNorm[i], whiskNorm[i]] }],
        backgroundColor: '#111', barThickness: 2, grouped: false }
    ] },
    options: {
      responsive: false,
      layout: { autoPadding: false, padding: { right: 4 } },
      scales: {
        x: {
          type: 'linear', min: 0.4, max: 2.6, offset: false,
          afterFit(s) { s.height = GUTTER_B; },
          afterBuildTicks(s) { s.ticks = [{ value: 1 }, { value: 2 }]; },
          border: { display: false },
          grid: { offset: false, drawOnChartArea: false, drawTicks: true, tickLength: 10, tickWidth: 2, tickColor: '#333' },
          ticks: { display: false }
        },
        y: {
          type: 'linear', min: yRange[0], max: yRange[1],
          afterFit(s) { s.width = GUTTER_L; },
          afterBuildTicks(s) { s.ticks = yTicks.map(v => ({ value: v })); },
          border: { display: false },
          grid: { drawOnChartArea: false, drawTicks: true, tickLength: 10, tickWidth: 2, tickColor: '#333' },
          ticks: { autoSkip: false, padding: 6, labelOffset: 1.5, font: { size: 28 }, color: '#111', callback: v => String(v) }
        }
      },
      plugins: {
        title: { display: true, text: gene, fullSize: false, font: { size: 27, style: 'italic', weight: 'normal' },
          color: '#111', padding: { top: 0, bottom: 17.6 } },
        starMark: { level: starLevel[i] }
      }
    },
    plugins: [frame, starMark, groupNames]
  });
}

addLabel('C', 14, 1172, 'bold');
addLabel('D', 979, 16, 'bold');

const colLeft = [83, 358, 634, 911, 1187, 1463];
const rowOne = ['ASPM', 'AURKB', 'BUB1', 'BUB1B', 'CDK1', 'CDKN3'];
const rowTwo = ['CENPF', 'CKS1B', 'HMGA2', 'KIF2C', 'PLK1', 'TPX2'];
rowOne.forEach((g, k) => expressionPlot(g, colLeft[k], 1241, [-0.49, 10.67], ticks10));
rowTwo.forEach((g, k) => {
  const wide = g === 'CENPF' || g === 'CKS1B';
  expressionPlot(g, colLeft[k], 1578, wide ? [-0.7, 15.86] : [-0.47, 10.6], wide ? ticks15 : ticks10);
});
expressionPlot('MYH10', 1087, 95, [-0.7, 15.86], ticks15);
expressionPlot('TACC1', 1363, 95, [-0.7, 15.86], ticks15);

addLabel('-log2(TPM+1)', 15, 1357, 'ylab', true);
addLabel('-log2(TPM+1)', 12, 1698, 'ylab', true);
addLabel('-log2(TPM+1)', 1011, 205, 'ylab', true);
</script>
</body>
</html>
